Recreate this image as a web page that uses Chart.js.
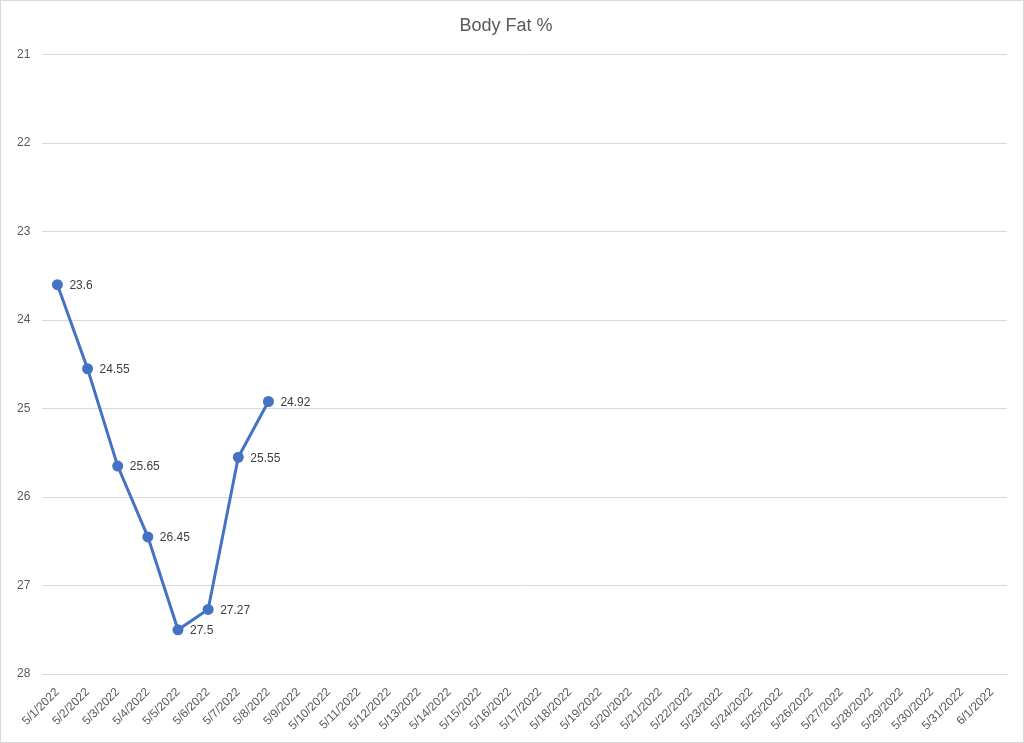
<!DOCTYPE html>
<html><head><meta charset="utf-8">
<script src="https://cdn.jsdelivr.net/npm/chart.js@4/dist/chart.umd.min.js"></script>
<style>html,body{margin:0;padding:0;background:#fff}#w{width:1022px;height:741px;border:1px solid #d9d9d9}</style>
</head><body><div id="w"><canvas id="c"></canvas></div>
<script>
const categories = [];
for (let d = 1; d <= 31; d++) categories.push('5/' + d + '/2022');
categories.push('6/1/2022');
const bodyFat = [23.6, 24.55, 25.65, 26.45, 27.5, 27.27, 25.55, 24.92];
const yMin = 21, yMax = 28;

const labelPlugin = {
  id: 'lbl',
  afterDatasetsDraw(chart) {
    const ctx = chart.ctx;
    const meta = chart.getDatasetMeta(0);
    ctx.save();
    ctx.font = '12px "Liberation Sans", Arial, sans-serif';
    ctx.fillStyle = '#404040';
    ctx.textBaseline = 'middle';
    meta.data.forEach((p, i) => {
      ctx.fillText(String(bodyFat[i]), p.x + 12, p.y + 1);
    });
    ctx.restore();
  }
};

new Chart(document.getElementById('c'), {
  type: 'line',
  data: { labels: categories, datasets: [{
    data: bodyFat, borderColor: '#4472c4', backgroundColor: '#4472c4',
    borderWidth: 3, pointRadius: 4, pointHoverRadius: 4, tension: 0
  }]},
  options: {
    responsive: true, maintainAspectRatio: false, animation: false,
    layout: { padding: { left: 4, right: 16, top: 6, bottom: 6 } },
    plugins: {
      legend: { display: false }, tooltip: { enabled: false },
      title: { display: true, text: 'Body Fat %', color: '#595959',
        font: { size: 18, family: '"Liberation Sans", Arial, sans-serif', weight: 'normal' },
        padding: { top: 8, bottom: 18 } }
    },
    scales: {
      x: { offset: true,
        grid: { display: false, drawTicks: true },
        border: { color: '#d9d9d9' },
        ticks: { color: '#595959', maxRotation: 45, minRotation: 45, autoSkip: false,
          font: { size: 12, family: '"Liberation Sans", Arial, sans-serif' } } },
      y: { reverse: true, min: yMin, max: yMax,
        grid: { color: '#d9d9d9', drawTicks: false },
        border: { display: false },
        ticks: { stepSize: 1, color: '#595959', padding: 12,
          font: { size: 12, family: '"Liberation Sans", Arial, sans-serif' } } }
    }
  },
  plugins: [labelPlugin]
});
</script></body></html>
